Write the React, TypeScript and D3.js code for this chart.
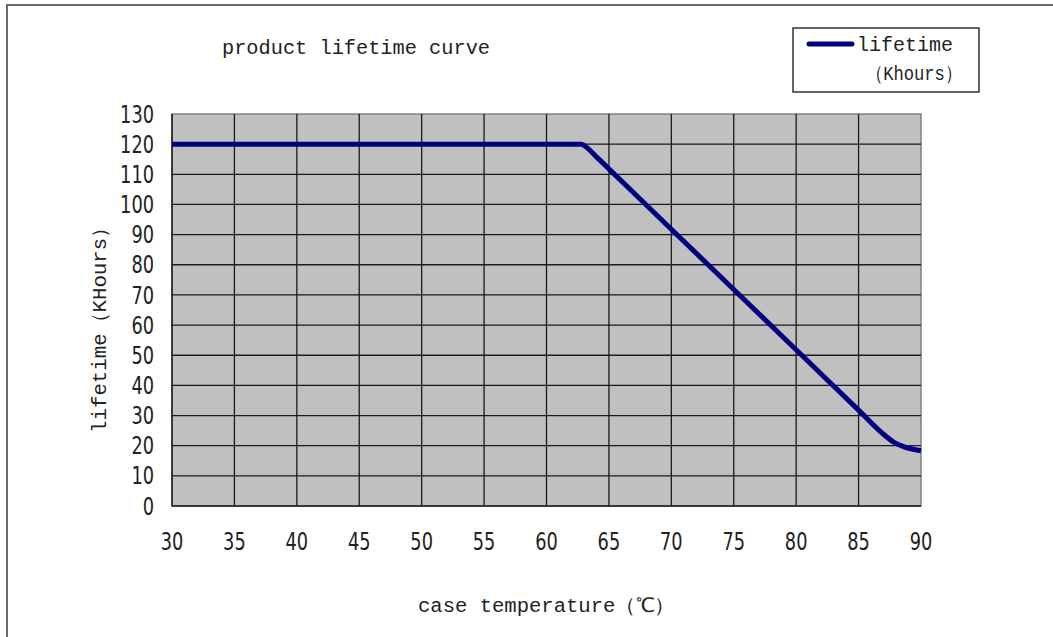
import React, { useEffect, useRef } from "react";
import * as d3 from "d3";

const temps = [30, 35, 40, 45, 50, 55, 60, 62.8, 63.1, 64, 65, 70, 75, 80, 85, 87, 87.8, 88.6, 90];
const lifetime = [120, 120, 120, 120, 120, 120, 120, 120, 119.3, 115.8, 111.8, 91.8, 71.8, 51.8, 31.8, 23.8, 21.2, 19.7, 18.3];
const xTicks = [30, 35, 40, 45, 50, 55, 60, 65, 70, 75, 80, 85, 90];
const yTicks = [0, 10, 20, 30, 40, 50, 60, 70, 80, 90, 100, 110, 120, 130];

const W = 1053;
const H = 637;
const mono = "'Liberation Mono', 'DejaVu Sans Mono', monospace";
const narrow = "'Liberation Sans Narrow', 'DejaVu Sans Condensed', sans-serif";

const App = () => {
  const svgRef = useRef<SVGSVGElement>(null);

  useEffect(() => {
    const svg = d3.select(svgRef.current);
    svg.selectAll("*").remove();

    const left = 172, right = 921, top = 114, bottom = 506;
    const x = d3.scaleLinear().domain([30, 90]).range([left, right]);
    const y = d3.scaleLinear().domain([0, 130]).range([bottom, top]);

    // outer frame (only left/top visible)
    svg.append("rect")
      .attr("x", 7).attr("y", 5).attr("width", W).attr("height", H)
      .attr("fill", "#fff").attr("stroke", "#6a6a6a").attr("stroke-width", 2);

    // plot area
    svg.append("rect")
      .attr("x", left).attr("y", top)
      .attr("width", right - left).attr("height", bottom - top)
      .attr("fill", "#c0c0c0").attr("stroke", "#808080").attr("stroke-width", 1.5);

    const grid = svg.append("g").attr("stroke", "#1a1a1a").attr("stroke-width", 1.3);
    grid.selectAll(".vx")
      .data(xTicks.slice(1, -1))
      .join("line")
      .attr("x1", (d) => x(d)).attr("x2", (d) => x(d))
      .attr("y1", top).attr("y2", bottom);
    grid.selectAll(".hy")
      .data(yTicks.slice(1, -1))
      .join("line")
      .attr("x1", left).attr("x2", right)
      .attr("y1", (d) => y(d)).attr("y2", (d) => y(d));

    // axes lines
    svg.append("line").attr("x1", left).attr("x2", right).attr("y1", bottom).attr("y2", bottom)
      .attr("stroke", "#1a1a1a").attr("stroke-width", 1.5);
    svg.append("line").attr("x1", left).attr("x2", left).attr("y1", top).attr("y2", bottom)
      .attr("stroke", "#1a1a1a").attr("stroke-width", 1.5);

    // tick labels (tall, condensed digits)
    svg.append("g").selectAll("text")
      .data(yTicks)
      .join("text")
      .attr("x", 154).attr("y", (d) => y(d))
      .attr("dy", "0.36em")
      .attr("text-anchor", "end")
      .attr("textLength", (d) => String(d).length * 11.3)
      .attr("lengthAdjust", "spacingAndGlyphs")
      .attr("font-family", narrow).attr("font-size", 24).attr("fill", "#222")
      .text((d) => d);
    svg.append("g").selectAll("text")
      .data(xTicks)
      .join("text")
      .attr("x", (d) => x(d)).attr("y", 541)
      .attr("dy", "0.36em")
      .attr("text-anchor", "middle")
      .attr("textLength", (d) => String(d).length * 11.3)
      .attr("lengthAdjust", "spacingAndGlyphs")
      .attr("font-family", narrow).attr("font-size", 24).attr("fill", "#222")
      .text((d) => d);

    // the curve
    const line = d3.line<number>()
      .x((_, i) => x(temps[i]))
      .y((d) => y(d))
      .curve(d3.curveMonotoneX);
    svg.append("path")
      .datum(lifetime)
      .attr("d", line)
      .attr("fill", "none")
      .attr("stroke", "#000080")
      .attr("stroke-width", 5)
      .attr("stroke-linejoin", "round");

    // title & axis titles
    svg.append("text")
      .attr("x", 222).attr("y", 54)
      .attr("textLength", 268).attr("lengthAdjust", "spacingAndGlyphs")
      .attr("font-family", mono).attr("font-size", 20).attr("fill", "#222")
      .text("product lifetime curve");
    svg.append("text")
      .attr("x", 418).attr("y", 612)
      .attr("textLength", 257).attr("lengthAdjust", "spacingAndGlyphs")
      .attr("font-family", mono).attr("font-size", 20).attr("fill", "#222")
      .text("case temperature（℃）");
    svg.append("text")
      .attr("transform", "translate(106,325) rotate(-90)")
      .attr("text-anchor", "middle")
      .attr("textLength", 216).attr("lengthAdjust", "spacingAndGlyphs")
      .attr("font-family", mono).attr("font-size", 20).attr("fill", "#222")
      .text("lifetime（KHours）");

    // legend
    svg.append("rect")
      .attr("x", 793).attr("y", 28).attr("width", 186).attr("height", 64)
      .attr("fill", "#fff").attr("stroke", "#333").attr("stroke-width", 1.5);
    svg.append("line")
      .attr("x1", 809).attr("x2", 852).attr("y1", 44).attr("y2", 44)
      .attr("stroke", "#000080").attr("stroke-width", 5).attr("stroke-linecap", "round");
    svg.append("text")
      .attr("x", 857).attr("y", 51)
      .attr("font-family", mono).attr("font-size", 20).attr("fill", "#222")
      .text("lifetime");
    svg.append("text")
      .attr("x", 866).attr("y", 80)
      .attr("textLength", 96).attr("lengthAdjust", "spacingAndGlyphs")
      .attr("font-family", mono).attr("font-size", 20).attr("fill", "#222")
      .text("（Khours）");
  }, []);

  return (
    <svg
      ref={svgRef}
      width={W}
      height={H}
      style={{ position: "absolute", left: 0, top: 0, background: "#fff" }}
    />
  );
};

export default App;
